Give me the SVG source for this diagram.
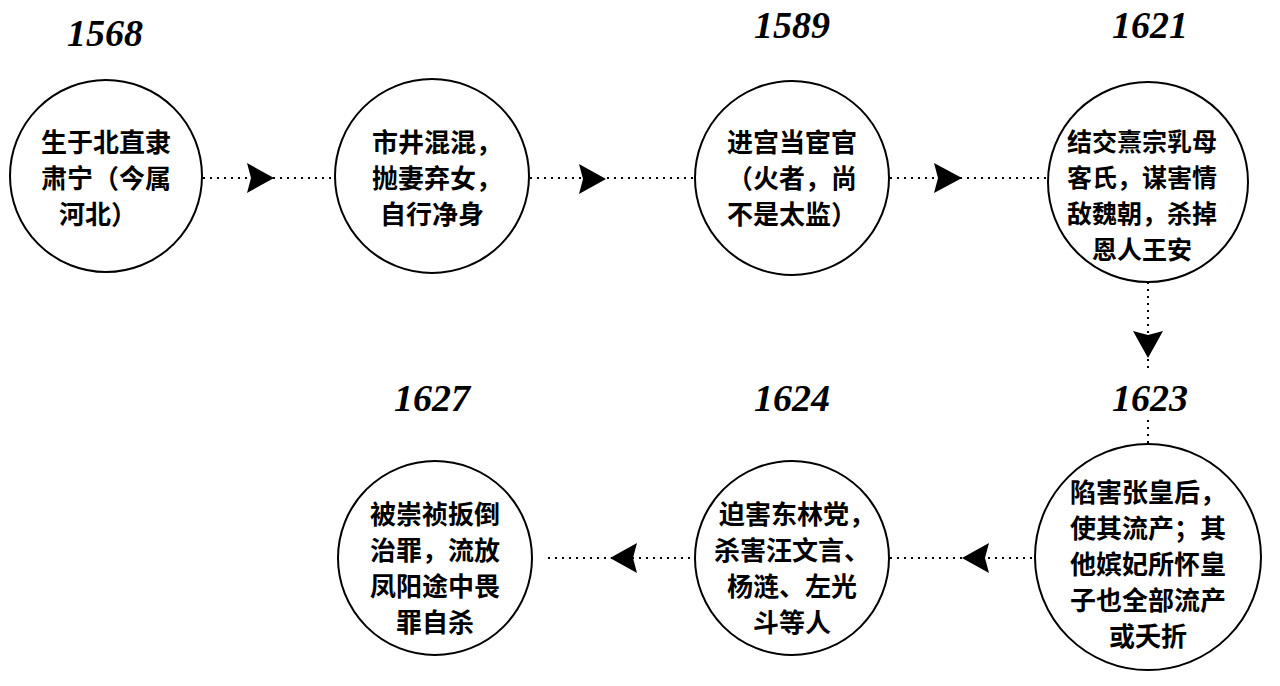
<svg xmlns="http://www.w3.org/2000/svg" width="1280" height="686" viewBox="0 0 1280 686">
<style>
.n{fill:#fff;stroke:#000;stroke-width:2}
.t{font-family:"Noto Sans CJK SC",sans-serif;font-weight:bold;font-size:26px;text-anchor:middle;dominant-baseline:central}
.s{font-size:25px}
.y{font-family:"Liberation Serif",serif;font-weight:bold;font-style:italic;font-size:38px;text-anchor:middle;dominant-baseline:central}
.c{stroke:#000;stroke-width:2;stroke-dasharray:2 5;fill:none}
</style>
<rect width="1280" height="686" fill="#fff"/>
<g id="connectors">
<line class="c" x1="203" y1="178" x2="335" y2="178"/><path d="M247 163L274 178L247 193L251 178Z"/>
<line class="c" x1="530" y1="178" x2="695" y2="178"/><path d="M579 164L606 179L579 194L583 179Z"/>
<line class="c" x1="890" y1="178" x2="1048" y2="178"/><path d="M934 163L962 178L934 193L938 178Z"/>
<line class="c" x1="1148" y1="282" x2="1148" y2="372"/><path d="M1133 331L1148 358L1163 331L1148 335Z"/>
<line class="c" x1="1148" y1="420" x2="1148" y2="444"/>
<line class="c" x1="890" y1="558" x2="1035" y2="558"/><path d="M989 543L962 558L989 573L985 558Z"/>
<line class="c" x1="548" y1="558" x2="695" y2="558"/><path d="M637 543L610 558L637 573L633 558Z"/>
</g>
<g id="n1"><circle class="n" cx="106" cy="176" r="96"/><text class="y" x="105" y="33">1568</text>
<text class="t" x="106" y="140">生于北直隶</text><text class="t" x="106" y="176">肃宁（今属</text><text class="t" x="98" y="212">河北）</text></g>
<g id="n2"><circle class="n" cx="432" cy="176" r="97"/>
<text class="t" x="437" y="140">市井混混，</text><text class="t" x="437" y="176">抛妻弃女，</text><text class="t" x="432" y="212">自行净身</text></g>
<g id="n3"><circle class="n" cx="792" cy="178" r="97"/><text class="y" x="792" y="25">1589</text>
<text class="t" x="792" y="140">进宫当宦官</text><text class="t" x="792" y="176">（火者，尚</text><text class="t" x="792" y="212">不是太监）</text></g>
<g id="n4"><circle class="n" cx="1148" cy="182" r="100"/><text class="y" x="1150" y="25">1621</text>
<text class="t s" x="1142" y="140">结交熹宗乳母</text><text class="t s" x="1142" y="176">客氏，谋害情</text><text class="t s" x="1142" y="212">敌魏朝，杀掉</text><text class="t s" x="1142" y="248">恩人王安</text></g>
<g id="n5"><circle class="n" cx="1148" cy="557" r="113"/><text class="y" x="1150" y="398">1623</text>
<text class="t" x="1148" y="490">陷害张皇后，</text><text class="t" x="1148" y="526">使其流产；其</text><text class="t" x="1148" y="562">他嫔妃所怀皇</text><text class="t" x="1148" y="598">子也全部流产</text><text class="t" x="1148" y="634">或夭折</text></g>
<g id="n6"><circle class="n" cx="792" cy="558" r="97"/><text class="y" x="792" y="398">1624</text>
<text class="t" x="797" y="512">迫害东林党，</text><text class="t" x="792" y="548">杀害汪文言、</text><text class="t" x="792" y="584">杨涟、左光</text><text class="t" x="792" y="620">斗等人</text></g>
<g id="n7"><circle class="n" cx="435" cy="558" r="97"/><text class="y" x="432" y="398">1627</text>
<text class="t" x="435" y="512">被崇祯扳倒</text><text class="t" x="435" y="548">治罪，流放</text><text class="t" x="435" y="584">凤阳途中畏</text><text class="t" x="435" y="620">罪自杀</text></g>
</svg>
